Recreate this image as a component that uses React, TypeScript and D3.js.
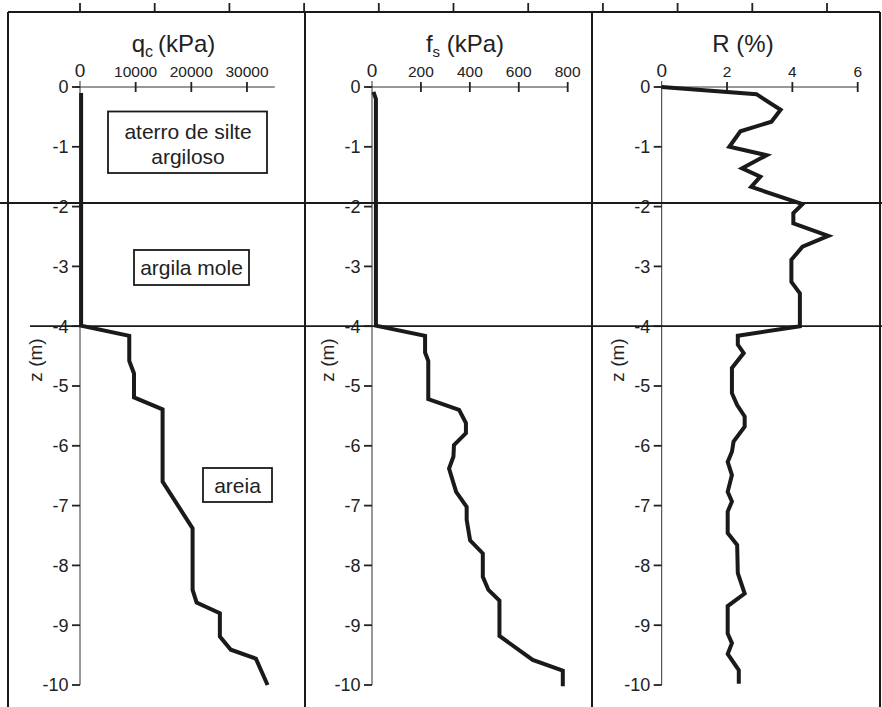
import React from "react";
import * as d3 from "d3";

const W = 882;
const H = 707;

// depth ticks (m)
const depthTicks = [0, -1, -2, -3, -4, -5, -6, -7, -8, -9, -10];

// cone resistance qc (kPa)
const qcDepth = [-0.1, -3.99, -4.16, -4.58, -4.79, -5.19, -5.39, -6.6, -7.38, -8.41, -8.62, -8.8, -9.19, -9.41, -9.56, -10.0];
const qcValue = [200, 200, 8850, 8850, 9700, 9700, 14840, 14840, 20230, 20230, 20950, 25130, 25130, 27100, 31600, 33700];
const qcTicks = [0, 10000, 20000, 30000];

// sleeve friction fs (kPa)
const fsDepth = [-0.08, -0.2, -3.99, -4.16, -4.44, -4.58, -5.22, -5.4, -5.62, -5.79, -5.99, -6.18, -6.38, -6.77, -7.02, -7.24, -7.58, -7.8, -8.19, -8.41, -8.59, -9.18, -9.58, -9.76, -10.02];
const fsValue = [6, 16, 16, 217, 217, 230, 230, 356, 384, 384, 335, 333, 315, 344, 387, 387, 401, 453, 453, 476, 521, 521, 657, 780, 780];
const fsTicks = [0, 200, 400, 600, 800];

// friction ratio R (%)
const rDepth = [0, -0.12, -0.38, -0.58, -0.74, -1.0, -1.14, -1.36, -1.5, -1.67, -1.96, -2.11, -2.28, -2.49, -2.67, -2.89, -3.26, -3.45, -4.0, -4.16, -4.31, -4.45, -4.7, -5.12, -5.32, -5.51, -5.68, -5.93, -6.1, -6.27, -6.49, -6.77, -6.93, -7.1, -7.46, -7.66, -8.13, -8.47, -8.68, -9.14, -9.3, -9.48, -9.75, -9.98];
const rValue = [0, 2.9, 3.64, 3.36, 2.41, 2.07, 3.21, 2.46, 3.02, 2.74, 4.31, 4.03, 4.03, 5.1, 4.31, 3.97, 3.97, 4.23, 4.23, 2.33, 2.33, 2.51, 2.15, 2.15, 2.31, 2.54, 2.54, 2.2, 2.15, 2.02, 2.15, 2.02, 2.15, 2.02, 2.02, 2.31, 2.33, 2.54, 2.02, 2.02, 2.15, 2.02, 2.36, 2.36];
const rTicks = [0, 2, 4, 6];

// layer boundaries (m)
const layerDepths = [-1.94, -4.0];
const layerNames = [["aterro de silte", "argiloso"], ["argila mole"], ["areia"]];

const FONT = "'Liberation Sans', Arial, Helvetica, sans-serif";

const y = d3.scaleLinear().domain([0, -10]).range([87, 685]);

type PanelProps = {
  x: d3.ScaleLinear<number, number>;
  ticks: number[];
  depth: number[];
  value: number[];
  fmt: (v: number) => string;
};

function Panel({ x, ticks, depth, value, fmt }: PanelProps) {
  const x0 = x(0);
  const xEnd = x.range()[1];
  const line = d3
    .line<number>()
    .x((_, i) => x(value[i]))
    .y((d) => y(d));
  return (
    <g>
      {/* x axis */}
      <line x1={x0 - 5} x2={xEnd} y1={y(0)} y2={y(0)} stroke="#333" strokeWidth={1} />
      {ticks.map((t) => (
        <g key={"xt" + t}>
          {t !== 0 && (
            <line x1={x(t)} x2={x(t)} y1={y(0) - 5} y2={y(0) + 5} stroke="#222" strokeWidth={1.8} />
          )}
          <text
            x={x(t)}
            y={76.5}
            textAnchor="middle"
            fontFamily={FONT}
            fontSize={t === 0 ? 19 : 15.5}
            fill="#222"
          >
            {fmt(t)}
          </text>
        </g>
      ))}
      {/* y axis */}
      <line x1={x0} x2={x0} y1={y(0) - 6} y2={y(-10)} stroke="#333" strokeWidth={1} />
      {depthTicks.map((d) => (
        <g key={"yt" + d}>
          <line x1={x0 - 8} x2={x0} y1={y(d)} y2={y(d)} stroke="#222" strokeWidth={1.8} />
          <text
            x={x0 - 11.5}
            y={y(d)}
            dy="0.36em"
            textAnchor="end"
            fontFamily={FONT}
            fontSize={18}
            fill="#222"
          >
            {d}
          </text>
        </g>
      ))}
      <text
        transform={`translate(${x0 - 38},${360}) rotate(-90)`}
        textAnchor="middle"
        fontFamily={FONT}
        fontSize={19}
        fill="#222"
      >
        z (m)
      </text>
      <path d={line(depth) || ""} fill="none" stroke="#1a1a1a" strokeWidth={4} strokeLinejoin="miter" />
    </g>
  );
}

export default function App() {
  const xQc = d3.scaleLinear().domain([0, 35000]).range([80, 274.8]);
  const xFs = d3.scaleLinear().domain([0, 800]).range([372, 567.7]);
  const xR = d3.scaleLinear().domain([0, 6]).range([661.7, 857.7]);
  const topTicks = d3.scaleLinear().domain([0, 10]).range([80, 827]);
  const topIdx = d3.range(0, 11);

  const boxStyle = { fill: "white", stroke: "#1a1a1a", strokeWidth: 1.8 };
  const textProps = { fontFamily: FONT, fontSize: 21, fill: "#222", textAnchor: "middle" as const };

  return (
    <svg
      width={W}
      height={H}
      style={{ position: "absolute", left: 0, top: 0, background: "white" }}
    >
      <rect x={0} y={0} width={W} height={H} fill="white" />
      {/* top ticks */}
      {topIdx.map((i) => (
        <line key={"tt" + i} x1={topTicks(i)} x2={topTicks(i)} y1={3} y2={12} stroke="#222" strokeWidth={1.8} />
      ))}
      {/* frame */}
      <line x1={8} x2={880} y1={12} y2={12} stroke="#1a1a1a" strokeWidth={2} />
      <line x1={8} x2={8} y1={12} y2={H + 2} stroke="#1a1a1a" strokeWidth={2} />
      <line x1={305} x2={305} y1={12} y2={H + 2} stroke="#1a1a1a" strokeWidth={2} />
      <line x1={592} x2={592} y1={12} y2={H + 2} stroke="#1a1a1a" strokeWidth={2} />
      <line x1={880} x2={880} y1={12} y2={H + 2} stroke="#1a1a1a" strokeWidth={2} />

      {/* titles */}
      <text x={173.5} y={52} {...textProps} fontSize={24}>
        <tspan>q</tspan>
        <tspan fontSize={16} dy={5}>c</tspan>
        <tspan dy={-5}>{"\u2009(kPa)"}</tspan>
      </text>
      <text x={465} y={52} {...textProps} fontSize={24}>
        <tspan>f</tspan>
        <tspan fontSize={15} dy={5}>s</tspan>
        <tspan dy={-5}> (kPa)</tspan>
      </text>
      <text x={743} y={52} {...textProps} fontSize={24}>
        R (%)
      </text>

      <Panel x={xQc} ticks={qcTicks} depth={qcDepth} value={qcValue} fmt={(v) => String(v)} />
      <Panel x={xFs} ticks={fsTicks} depth={fsDepth} value={fsValue} fmt={(v) => String(v)} />
      <Panel x={xR} ticks={rTicks} depth={rDepth} value={rValue} fmt={(v) => String(v)} />

      {/* layer boundaries */}
      <line x1={0} x2={W} y1={y(layerDepths[0])} y2={y(layerDepths[0])} stroke="#1a1a1a" strokeWidth={1.8} />
      <line x1={30} x2={W} y1={y(layerDepths[1])} y2={y(layerDepths[1])} stroke="#1a1a1a" strokeWidth={1.8} />

      {/* layer labels */}
      <rect x={108} y={111.5} width={159} height={61.5} {...boxStyle} />
      <text x={188} y={139} {...textProps}>{layerNames[0][0]}</text>
      <text x={188} y={164} {...textProps}>{layerNames[0][1]}</text>

      <rect x={134} y={250} width={115} height={35} {...boxStyle} />
      <text x={191.5} y={275} {...textProps}>{layerNames[1][0]}</text>

      <rect x={203} y={468} width={69} height={34} {...boxStyle} />
      <text x={237.5} y={493} {...textProps}>{layerNames[2][0]}</text>
    </svg>
  );
}
